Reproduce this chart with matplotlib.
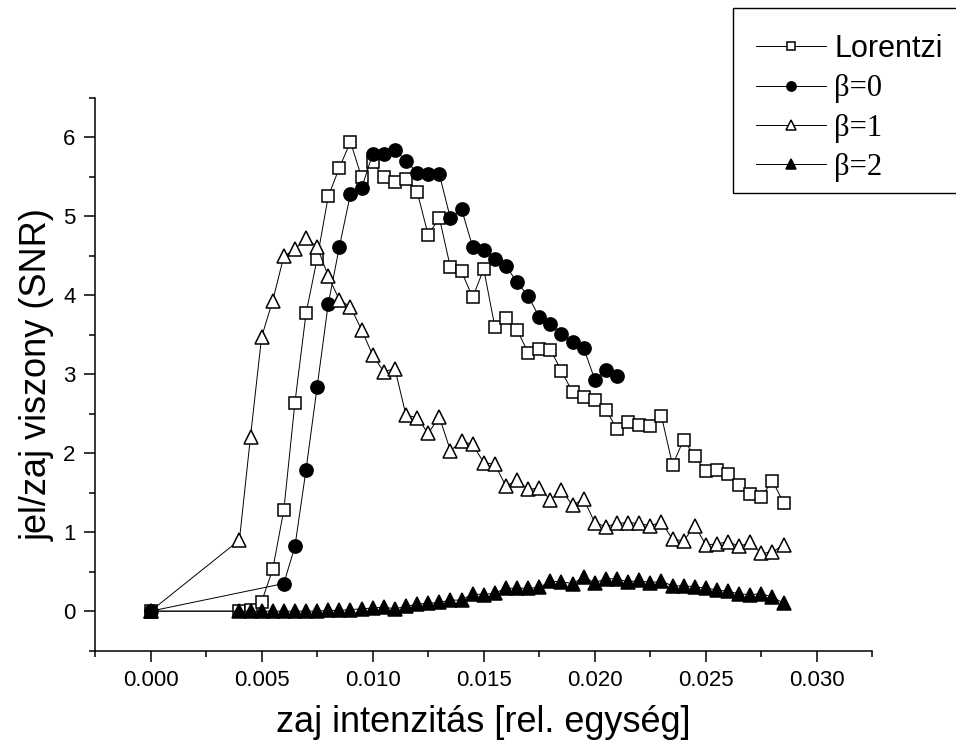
import matplotlib
matplotlib.use("Agg")
import matplotlib.pyplot as plt
from matplotlib.patches import Rectangle
from matplotlib.ticker import MultipleLocator, FormatStrFormatter

# zaj intenzitás values (0.0005 steps after the origin)
x_lor = [0.0] + [0.004 + 0.0005 * i for i in range(50)]
snr_lor = [0.0,
           0.0, 0.02, 0.12, 0.53, 1.28, 2.64, 3.77, 4.46, 5.25, 5.61,
           5.94, 5.49, 5.68, 5.49, 5.43, 5.47, 5.31, 4.76, 4.98, 4.35,
           4.30, 3.97, 4.33, 3.60, 3.71, 3.56, 3.27, 3.32, 3.31, 3.04,
           2.77, 2.71, 2.67, 2.55, 2.30, 2.39, 2.36, 2.34, 2.47, 1.85,
           2.17, 1.96, 1.77, 1.79, 1.73, 1.60, 1.48, 1.45, 1.65, 1.37]

x_b0 = [0.0] + [0.006 + 0.0005 * i for i in range(31)]
snr_b0 = [0.0,
          0.35, 0.82, 1.79, 2.84, 3.89, 4.61, 5.28, 5.35, 5.79, 5.78,
          5.84, 5.70, 5.55, 5.53, 5.53, 4.97, 5.09, 4.61, 4.57, 4.46,
          4.37, 4.16, 3.99, 3.72, 3.63, 3.51, 3.41, 3.33, 2.93, 3.05,
          2.97]

x_b1 = [0.0] + [0.004 + 0.0005 * i for i in range(50)]
snr_b1 = [0.0,
          0.90, 2.21, 3.47, 3.93, 4.49, 4.58, 4.72, 4.61, 4.24, 3.94,
          3.85, 3.56, 3.24, 3.03, 3.07, 2.48, 2.45, 2.25, 2.46, 2.03,
          2.15, 2.11, 1.88, 1.86, 1.58, 1.66, 1.54, 1.56, 1.41, 1.53,
          1.34, 1.42, 1.12, 1.07, 1.11, 1.12, 1.11, 1.08, 1.13, 0.91,
          0.89, 1.08, 0.84, 0.85, 0.88, 0.82, 0.87, 0.73, 0.75, 0.84]

x_b2 = [0.0] + [0.004 + 0.0005 * i for i in range(50)]
snr_b2 = [0.0,
          0.0, 0.0, 0.0, 0.0, 0.0, 0.0, 0.0, 0.0, 0.01, 0.01,
          0.02, 0.03, 0.04, 0.05, 0.03, 0.06, 0.09, 0.10, 0.11, 0.14,
          0.14, 0.22, 0.21, 0.23, 0.29, 0.29, 0.29, 0.30, 0.38, 0.37,
          0.35, 0.43, 0.36, 0.41, 0.41, 0.37, 0.39, 0.36, 0.38, 0.32,
          0.32, 0.31, 0.29, 0.27, 0.25, 0.22, 0.21, 0.22, 0.18, 0.10]

plt.rcParams['font.family'] = ['Liberation Sans', 'DejaVu Sans']

W, H = 956, 745
fig = plt.figure(figsize=(W / 100, H / 100), dpi=100)
ax = fig.add_axes([0.0994, 0.1266, 0.8132, 0.7425])

lw = 0.7
mew = 1.1
l1, = ax.plot(x_lor, snr_lor, color='black', lw=lw, marker='s', ms=8.5,
              mfc='white', mec='black', mew=mew, label='Lorentzi')
l2, = ax.plot(x_b0, snr_b0, color='black', lw=lw, marker='o', ms=9.5,
              mfc='black', mec='black', mew=mew, label='β=0')
l3, = ax.plot(x_b1, snr_b1, color='black', lw=lw, marker='^', ms=10,
              mfc='white', mec='black', mew=mew, label='β=1')
l4, = ax.plot(x_b2, snr_b2, color='black', lw=lw, marker='^', ms=10,
              mfc='black', mec='black', mew=mew, label='β=2')

ax.set_xlim(-0.0025, 0.0325)
ax.set_ylim(-0.5, 6.5)
ax.xaxis.set_major_locator(MultipleLocator(0.005))
ax.xaxis.set_minor_locator(MultipleLocator(0.0025))
ax.xaxis.set_major_formatter(FormatStrFormatter('%.3f'))
ax.yaxis.set_major_locator(MultipleLocator(1))
ax.yaxis.set_minor_locator(MultipleLocator(0.5))

for s in ['top', 'right']:
    ax.spines[s].set_visible(False)
for s in ['left', 'bottom']:
    ax.spines[s].set_linewidth(1.1)

ax.tick_params(which='major', direction='out', length=8, width=1.1,
               labelsize=16, pad=6)
ax.tick_params(which='minor', direction='out', length=4.3, width=1.1)

ax.set_xlabel('zaj intenzitás [rel. egység]', fontsize=26, labelpad=10)
ax.set_ylabel('jel/zaj viszony (SNR)', fontsize=26, labelpad=6)

# legend box (runs off the right edge like the original)
fig.patches.append(Rectangle((733 / W, 1 - 193 / H), 240 / W, 185 / H,
                             transform=fig.transFigure, fill=False,
                             edgecolor='black', lw=1.0))

leg = fig.legend(handles=[l1, l2, l3, l4], loc='upper left',
                 bbox_to_anchor=(733 / W, 1 - 11 / H),
                 frameon=False, fontsize=22, numpoints=1,
                 handlelength=2.3, handletextpad=0.26, labelspacing=0.34,
                 borderpad=0.75, borderaxespad=0, markerscale=0.7)
for t in leg.get_texts()[1:]:
    t.set_family(['Liberation Serif', 'DejaVu Serif'])

fig.savefig('out.png', dpi=100)
